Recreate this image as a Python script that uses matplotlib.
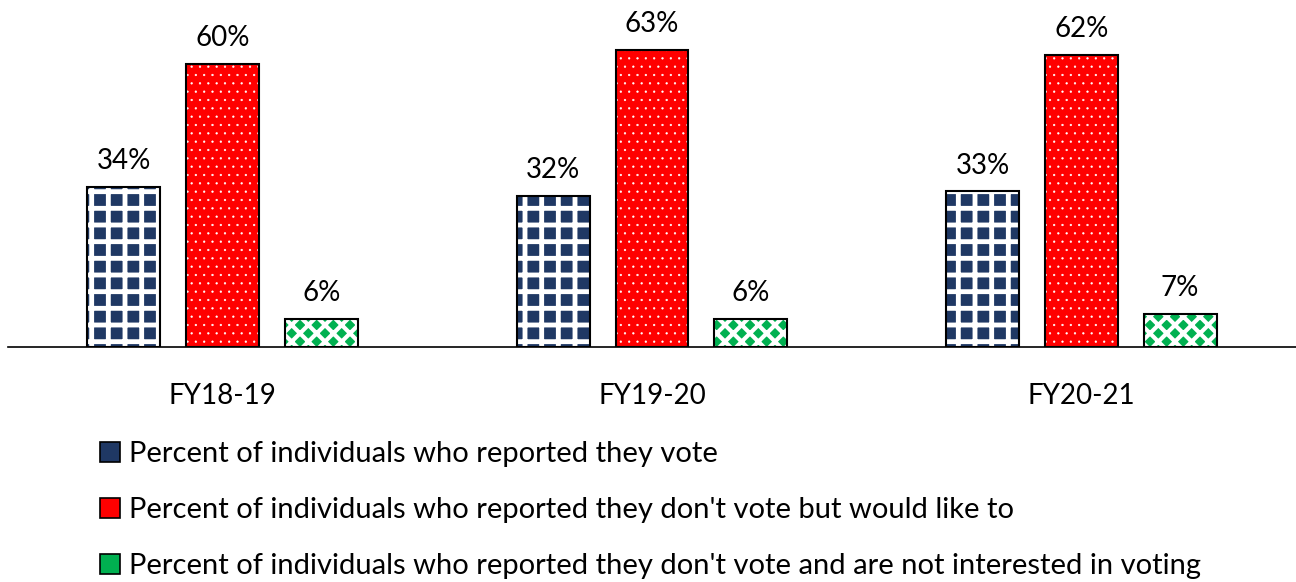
import numpy as np
import matplotlib.pyplot as plt
from matplotlib.patches import Patch

years = ["FY18-19", "FY19-20", "FY20-21"]
vote = [0.34, 0.32, 0.33]
would_like = [0.60, 0.63, 0.62]
not_interested = [0.06, 0.06, 0.07]
labels = [
    "Percent of individuals who reported they vote",
    "Percent of individuals who reported they don't vote but would like to",
    "Percent of individuals who reported they don't vote and are not interested in voting",
]

plt.rcParams["font.family"] = ["Lato", "DejaVu Sans"]

fig = plt.figure(figsize=(12.96, 5.82), dpi=100)
ax = fig.add_axes([8 / 1296, 1 - 347 / 582, 1288 / 1296, 330 / 582])

x = np.arange(len(years))
width = 0.17
offset = 0.23

# (values, face colour, hatch colour, hatch, hatch linewidth)
series = [
    (vote, "#1f3864", "white", "+", 3.5),
    (would_like, "#ff0000", "white", "..", 0.4),
    (not_interested, "#00b050", "white", "xx", 3.0),
]

handles = []
for i, (vals, face, hcol, hatch, hlw) in enumerate(series):
    pos = x + (i - 1) * offset
    with plt.rc_context({"hatch.linewidth": hlw}):
        ax.bar(pos, vals, width, color=face, linewidth=0)
        ax.bar(pos, vals, width, color="none", edgecolor=hcol, hatch=hatch, linewidth=0)
        handles.append(Patch(facecolor=face, edgecolor="black", linewidth=1.2))
    ax.bar(pos, vals, width, color="none", edgecolor="black", linewidth=1.5)
    for p, v in zip(pos, vals):
        ax.text(p, v + 0.027, f"{v:.0%}", ha="center", va="bottom", fontsize=20)

ax.set_xlim(-0.5, 2.5)
ax.set_ylim(0, 0.70)
ax.set_xticks(x)
ax.set_xticklabels(years, fontsize=20)
ax.tick_params(axis="x", length=0, pad=26)
ax.set_yticks([])
for s in ["top", "right", "left"]:
    ax.spines[s].set_visible(False)
ax.spines["bottom"].set_linewidth(1.2)

fig.legend(handles, labels, loc="upper left", bbox_to_anchor=(100 / 1296, 1 - 441 / 582),
           frameon=False, fontsize=21, handlelength=0.7, handleheight=0.7,
           handletextpad=0.3, labelspacing=1.03, borderpad=0, borderaxespad=0)

fig.savefig("out.png", dpi=100)
